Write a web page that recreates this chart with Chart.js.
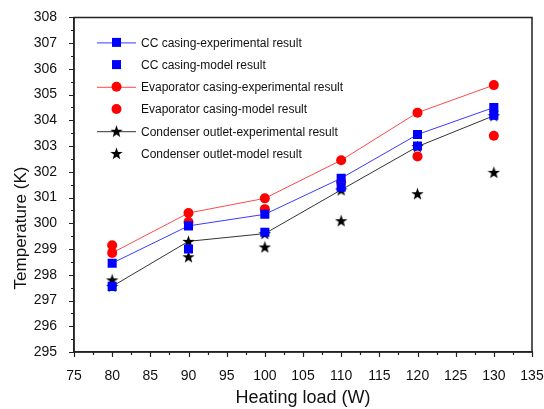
<!DOCTYPE html>
<html>
<head>
<meta charset="utf-8">
<script src="https://cdn.jsdelivr.net/npm/chart.js@4"></script>
<style>
  html, body { margin: 0; padding: 0; background: #fff; }
  #wrap { width: 544px; height: 409px; }
</style>
</head>
<body>
<div id="wrap"><canvas id="chart" width="544" height="409"></canvas></div>
<script>
// heating load (W) on the x axis
const heatingLoad = [80, 90, 100, 110, 120, 130];

// temperatures (K)
const ccExp = [298.45, 299.9, 300.35, 301.75, 303.45, 304.5];
const ccModel = [297.55, 299.0, 299.65, 301.4, 303.0, 304.2];
const evapExp = [298.85, 300.4, 300.97, 302.45, 304.3, 305.37];
const evapModel = [299.15, 300.05, 300.55, 301.6, 302.6, 303.4];
const condExp = [297.55, 299.3, 299.6, 301.3, 302.98, 304.18];
const condModel = [297.8, 298.7, 299.08, 300.1, 301.15, 301.98];

const seriesLabels = [
  "CC casing-experimental result",
  "CC casing-model result",
  "Evaporator casing-experimental result",
  "Evaporator casing-model result",
  "Condenser outlet-experimental result",
  "Condenser outlet-model result",
];

const xTitle = "Heating load (W)";
const yTitle = "Temperature (K)";

const FONT = "'Liberation Sans', Arial, sans-serif";
const AXIS_COLOR = "#222";

function makeStar(size, color) {
  const c = document.createElement("canvas");
  c.width = c.height = size;
  const g = c.getContext("2d");
  g.fillStyle = color;
  g.beginPath();
  for (let i = 0; i < 10; i++) {
    const r = i % 2 ? size * 0.2 : size / 2;
    const a = -Math.PI / 2 + (i * Math.PI) / 5;
    g.lineTo(size / 2 + r * Math.cos(a), size / 2 + 0.55 + r * Math.sin(a));
  }
  g.closePath();
  g.fill();
  return c;
}

const star = makeStar(13, "#000");

function toPoints(values) {
  return heatingLoad.map((x, i) => ({ x, y: values[i] }));
}

function series(label, values, color, lineColor, pointStyle, radius, withLine) {
  return {
    label,
    data: toPoints(values),
    showLine: withLine,
    borderColor: lineColor,
    borderWidth: 1,
    backgroundColor: color,
    pointBackgroundColor: color,
    pointBorderColor: color,
    pointBorderWidth: 0,
    pointStyle,
    pointRadius: radius,
    pointHoverRadius: radius,
  };
}

const datasets = [
  series(seriesLabels[0], ccExp, "#0000ff", "#3a3aff", "rect", 6.4, true),
  series(seriesLabels[1], ccModel, "#0000ff", "#3a3aff", "rect", 6.4, false),
  series(seriesLabels[2], evapExp, "#ff0000", "#ff4a4a", "circle", 5, true),
  series(seriesLabels[3], evapModel, "#ff0000", "#ff4a4a", "circle", 5, false),
  series(seriesLabels[4], condExp, "#000", "#333", star, 6, true),
  series(seriesLabels[5], condModel, "#000", "#333", star, 6, false),
];

// ticks (major + minor), top/right frame, y title and the legend
const decorPlugin = {
  id: "decor",
  afterDraw(chart) {
    const { ctx, chartArea: a, scales } = chart;
    const xs = scales.x, ys = scales.y;
    ctx.save();
    ctx.strokeStyle = AXIS_COLOR;
    ctx.lineWidth = 1.5;
    ctx.beginPath();
    ctx.rect(a.left, a.top, a.right - a.left, a.bottom - a.top);
    ctx.stroke();

    ctx.lineWidth = 1.2;
    ctx.beginPath();
    for (let v = 75; v <= 135.01; v += 2.5) {
      const px = Math.round(xs.getPixelForValue(v)) + 0.5;
      const len = Math.abs(v % 5) < 0.01 ? 5 : 3;
      ctx.moveTo(px, a.bottom);
      ctx.lineTo(px, a.bottom + len);
    }
    for (let v = 295; v <= 308.01; v += 0.5) {
      const py = Math.round(ys.getPixelForValue(v)) + 0.5;
      const len = Math.abs(v % 1) < 0.01 ? 5 : 3;
      ctx.moveTo(a.left, py);
      ctx.lineTo(a.left - len, py);
    }
    ctx.stroke();

    ctx.fillStyle = "#111";
    ctx.font = "17px " + FONT;
    ctx.textAlign = "center";
    ctx.textBaseline = "middle";
    ctx.translate(21, 228);
    ctx.rotate(-Math.PI / 2);
    ctx.fillText(yTitle, 0, 0);
    ctx.restore();

    ctx.save();
    ctx.font = "12px " + FONT;
    ctx.textBaseline = "middle";
    ctx.textAlign = "left";
    chart.data.datasets.forEach((ds, i) => {
      const y = a.top + 25 + i * 22.2;
      const x0 = a.left + 23, x1 = a.left + 62, mx = (x0 + x1) / 2;
      if (ds.showLine) {
        ctx.strokeStyle = ds.borderColor;
        ctx.lineWidth = 1;
        ctx.beginPath();
        ctx.moveTo(x0, y + 0.5);
        ctx.lineTo(x1, y + 0.5);
        ctx.stroke();
      }
      ctx.fillStyle = ds.pointBackgroundColor;
      if (ds.pointStyle === "rect") {
        ctx.fillRect(mx - 4.5, y - 4.5, 9, 9);
      } else if (ds.pointStyle === "circle") {
        ctx.beginPath();
        ctx.arc(mx, y, 5, 0, Math.PI * 2);
        ctx.fill();
      } else {
        ctx.drawImage(ds.pointStyle, mx - 6.5, y - 6.5);
      }
      ctx.fillStyle = "#111";
      ctx.fillText(ds.label, a.left + 67, y + 1);
    });
    ctx.restore();
  },
};

new Chart(document.getElementById("chart"), {
  type: "scatter",
  data: { datasets },
  options: {
    responsive: false,
    animation: false,
    events: [],
    layout: { padding: { top: 15, right: 12, left: 0, bottom: 0 } },
    plugins: {
      legend: { display: false },
      tooltip: { enabled: false },
    },
    scales: {
      x: {
        type: "linear",
        min: 75,
        max: 135,
        grid: { display: false },
        border: { display: true, color: AXIS_COLOR, width: 1.5 },
        ticks: {
          stepSize: 5,
          color: "#111",
          font: { family: FONT, size: 14 },
          padding: 8,
          maxRotation: 0,
        },
        title: {
          display: true,
          text: xTitle,
          color: "#111",
          font: { family: FONT, size: 18 },
          padding: { top: 6, bottom: 0 },
        },
        afterFit(scale) {
          scale.height = 57;
          scale.paddingLeft = 0;
          scale.paddingRight = 0;
        },
      },
      y: {
        min: 295,
        max: 308,
        grid: { display: false },
        border: { display: true, color: AXIS_COLOR, width: 1.5 },
        ticks: {
          stepSize: 1,
          color: "#111",
          font: { family: FONT, size: 14 },
          padding: 9,
        },
        afterFit(scale) { scale.width = 74; },
      },
    },
  },
  plugins: [decorPlugin],
});
</script>
</body>
</html>
